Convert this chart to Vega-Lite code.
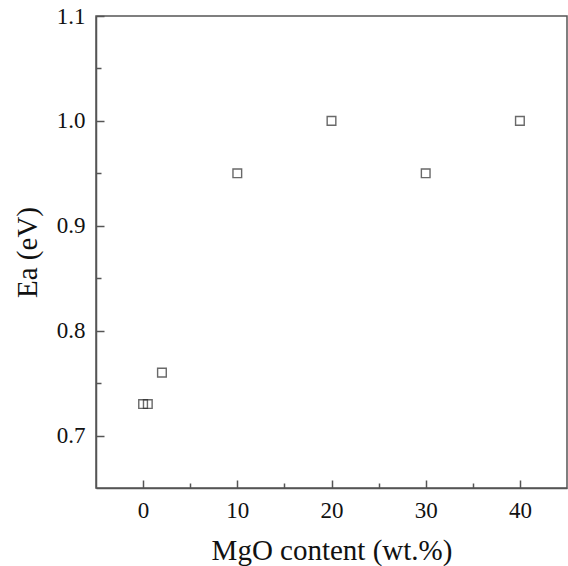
{
  "$schema": "https://vega.github.io/schema/vega-lite/v6.json",
  "autosize": "none",
  "width": 471,
  "height": 472,
  "padding": {"left": 96, "top": 16, "right": 1, "bottom": 78},
  "background": "white",
  "config": {
    "view": {"stroke": "#555555", "strokeWidth": 1.5},
    "font": "Liberation Serif"
  },
  "data": {"values": [
    {"mgo": 0, "ea": 0.73},
    {"mgo": 0.5, "ea": 0.73},
    {"mgo": 2, "ea": 0.76},
    {"mgo": 10, "ea": 0.95},
    {"mgo": 20, "ea": 1.0},
    {"mgo": 30, "ea": 0.95},
    {"mgo": 40, "ea": 1.0}
  ]},
  "layer": [
    {
      "mark": {"type": "point", "shape": "square", "filled": false, "stroke": "#2a2a2a", "strokeWidth": 1.4, "size": 75},
      "encoding": {
        "x": {"field": "mgo", "type": "quantitative", "scale": {"domain": [-5, 45], "nice": false, "zero": false},
          "axis": {"title": "MgO content (wt.%)", "values": [0, 10, 20, 30, 40], "format": "d", "grid": false,
            "domainColor": "#555555", "domainWidth": 1.5, "tickColor": "#555555", "tickWidth": 1.5, "tickSize": -8,
            "labelFontSize": 23, "labelColor": "#111111", "labelPadding": 19, "labelFont": "Liberation Serif",
            "titleFontSize": 29, "titleFontWeight": "normal", "titleColor": "#111111", "titlePadding": 14, "titleFont": "Liberation Serif"}},
        "y": {"field": "ea", "type": "quantitative", "scale": {"domain": [0.65, 1.1], "nice": false, "zero": false},
          "axis": {"title": "Ea (eV)", "values": [0.7, 0.8, 0.9, 1.0, 1.1], "format": ".1f", "grid": false,
            "domainColor": "#555555", "domainWidth": 1.5, "tickColor": "#555555", "tickWidth": 1.5, "tickSize": -8,
            "labelFontSize": 23, "labelColor": "#111111", "labelPadding": 19, "labelFont": "Liberation Serif",
            "titleFontSize": 29, "titleFontWeight": "normal", "titleColor": "#111111", "titlePadding": 14, "titleFont": "Liberation Serif"}}
      }
    },
    {
      "mark": {"type": "point", "opacity": 0},
      "encoding": {
        "x": {"field": "mgo", "type": "quantitative", "scale": {"domain": [-5, 45], "nice": false, "zero": false},
          "axis": {"orient": "bottom", "title": null, "values": [5, 15, 25, 35], "labels": false, "grid": false, "domain": false,
            "tickColor": "#555555", "tickWidth": 1.5, "tickSize": -5}},
        "y": {"field": "ea", "type": "quantitative", "scale": {"domain": [0.65, 1.1], "nice": false, "zero": false},
          "axis": {"orient": "left", "title": null, "values": [0.75, 0.85, 0.95, 1.05], "labels": false, "grid": false, "domain": false,
            "tickColor": "#555555", "tickWidth": 1.5, "tickSize": -5}}
      }
    }
  ],
  "resolve": {"axis": {"x": "independent", "y": "independent"}}
}
